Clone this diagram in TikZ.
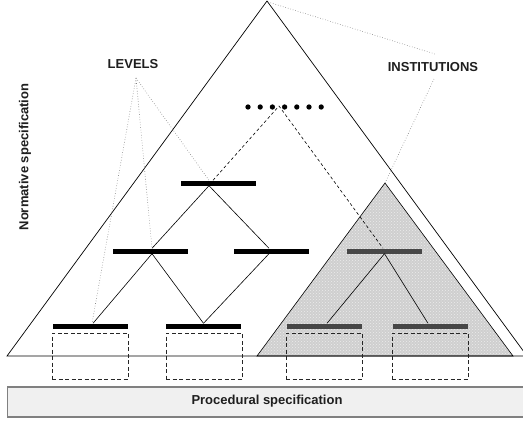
\documentclass[tikz,border=0pt]{standalone}
\usepackage{fontspec}
\setmainfont{Liberation Sans}
\usetikzlibrary{patterns}
\begin{document}
\begin{tikzpicture}[x=1pt,y=-1pt,
  tri/.style={draw=black, line width=0.7pt},
  bar/.style={rectangle, fill=black, minimum width=75pt, minimum height=5pt, inner sep=0pt},
  sbar/.style={bar, fill=black!72},
  slot/.style={draw=black!85, dash pattern=on 4pt off 2.5pt, line width=0.7pt, minimum width=76pt, minimum height=46pt, inner sep=0pt},
  link/.style={line width=0.6pt},
  dlink/.style={dash pattern=on 3pt off 2.5pt, line width=0.6pt},
  note/.style={draw=gray, dotted, line width=0.6pt},
  lbl/.style={font=\bfseries\fontsize{13}{15}\selectfont, text=black!88, inner sep=0pt},
  dotnode/.style={circle, fill=black, minimum size=5.3pt, inner sep=0pt}
]
\useasboundingbox (0,0) rectangle (523,421);
\begin{scope}
\clip (0,0) rectangle (523,421);
\fill[white] (0,0) rectangle (523,421);
% key points
\coordinate (A) at (267,1);
\coordinate (BL) at (7,356);
\coordinate (BR) at (527,356);
\coordinate (sA) at (385,183);
\coordinate (sL) at (257,356);
\coordinate (sR) at (513,356);
% shaded triangle
\fill[gray!38] (sL) -- (sA) -- (sR) -- cycle;
\fill[pattern=crosshatch dots, pattern color=white!85!gray] (sL) -- (sA) -- (sR) -- cycle;
\draw[line width=0.6pt] (sL) -- (sA) -- (sR) -- cycle;
% big triangle
\draw[tri] (BL) -- (A) -- (BR) -- cycle;
% procedural box
\node[draw=gray, line width=1.3pt, fill=gray!12, minimum width=523pt, minimum height=30pt, inner sep=0pt, anchor=west] (proc) at (7,402) {};
\node[lbl] (proct) at (267,401) {Procedural specification};
% labels
\node[lbl, rotate=90] (norm) at (25,157) {Normative specification};
\node[lbl] (lev) at (133,64) {LEVELS};
\node[lbl] (inst) at (433,67) {INSTITUTIONS};
% bars
\node[bar] (tb) at (218.5,183) {};
\node[bar] (ml) at (150.5,251) {};
\node[bar] (mr) at (271.5,251) {};
\node[sbar] (sm) at (384.5,251) {};
\node[bar] (b1) at (90,326) {};
\node[bar] (b2) at (203.5,326) {};
\node[sbar] (sb1) at (324.5,326) {};
\node[sbar] (sb2) at (430.5,326) {};
% slots
\node[slot] (s1) at (90,356) {};
\node[slot] (s2) at (204,356) {};
\node[slot] (s3) at (324,356) {};
\node[slot] (s4) at (430,356) {};
% dots
\foreach \i/\x in {1/248,2/260.2,3/272.4,4/284.6,5/296.8,6/309,7/321.2}
  \node[dotnode] (d\i) at (\x,107) {};
\coordinate (dap) at (279,106);
% tree links
\draw[link] ([xshift=-9.5pt]tb.south) -- ([xshift=1.5pt]ml.north);
\draw[link] ([xshift=-9.5pt]tb.south) -- ([xshift=-2.5pt]mr.north);
\draw[link] ([xshift=1.5pt]ml.south) -- ([xshift=3pt]b1.north);
\draw[link] ([xshift=1.5pt]ml.south) -- ([xshift=0pt]b2.north);
\draw[link] ([xshift=-2.5pt]mr.south) -- ([xshift=0pt]b2.north);
\draw[link] (sm.south) -- ([xshift=2.5pt]sb1.north);
\draw[link] (sm.south) -- ([xshift=-2.5pt]sb2.north);
% dashed links
\draw[dlink] ([xshift=-5.5pt]tb.north) -- (dap) -- ([xshift=-1.5pt]sm.north);
% dotted annotation lines
\coordinate (lvf) at (136,78);
\draw[note] (lvf) -- ([xshift=-9.5pt]tb.north);
\draw[note] (lvf) -- ([xshift=1.5pt]ml.north);
\draw[note] (lvf) -- ([xshift=2pt]b1.north);
\coordinate (ins1) at (435,54);
\coordinate (ins2) at (434,79);
\draw[note] ([shift={(1,1)}]A) -- (ins1);
\draw[note] (ins2) -- (sA);
\end{scope}
\end{tikzpicture}
\end{document}
